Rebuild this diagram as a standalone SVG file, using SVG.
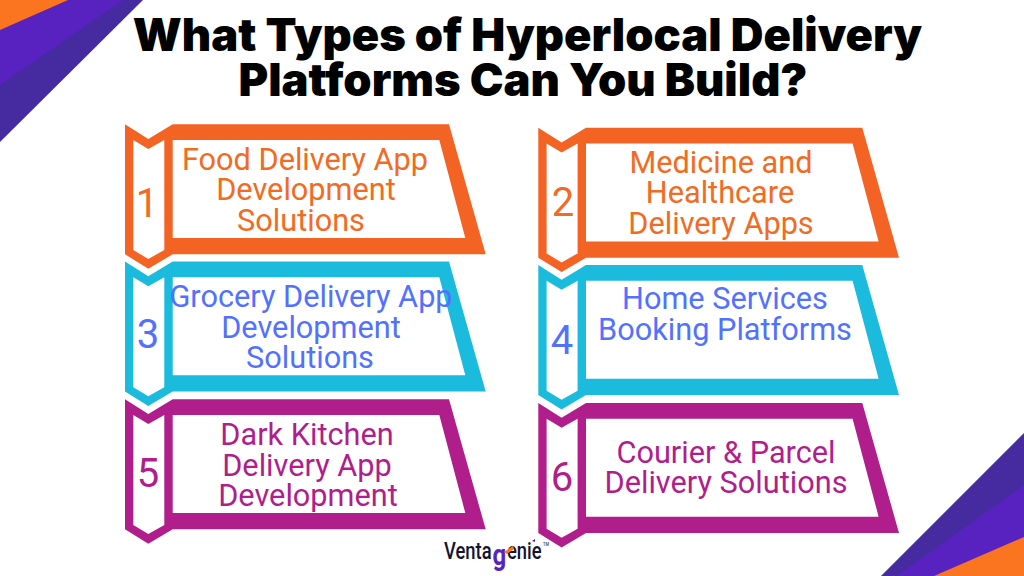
<svg xmlns="http://www.w3.org/2000/svg" width="1024" height="576" viewBox="0 0 1024 576">
<style>
.t{font-family:Roboto,"Liberation Sans",sans-serif;font-size:30.7px;text-anchor:middle;transform:translateY(.6px)}
.n{font-family:Roboto,"Liberation Sans",sans-serif;font-size:40px;text-anchor:middle}
.h{font-family:Inter,"Liberation Sans",sans-serif;font-size:45.3px;font-weight:900;text-anchor:middle;fill:#000}
.or{fill:#F26B22}.bl{fill:#5271FF}.ma{fill:#B01E8C}
.sor{fill:#F26324}.scy{fill:#1ABBDC}.sma{fill:#B01E8C}
</style>
<defs>
<path id="frame" fill-rule="evenodd" d="M0 0L23.3 14.7L47.7 0H324L360.7 130H47.7L23.3 144.4L0 130ZM8.3 15.7V125.7L23.3 134.7L39.3 125.7V15.7L23.3 24.7ZM47.7 15.7V113.7H340.3L314.3 15.7Z"/>
</defs>
<g id="corners">
<polygon points="0,0 143,0 0,142" fill="#452B9F"/>
<polygon points="0,0 123,0 0,85" fill="#5722C0"/>
<polygon points="0,0 68,0 0,30" fill="#FB7520"/>
<polygon points="1024,433 1024,576 881,576" fill="#452B9F"/>
<polygon points="1024,485 1024,576 897,576" fill="#5722C0"/>
<polygon points="1024,537 1024,576 934,576" fill="#FB7520"/>
</g>
<g id="title">
<text class="h"><tspan x="527.5" y="51">What Types of Hyperlocal Delivery</tspan><tspan x="523" y="96">Platforms Can You Build?</tspan></text>
</g>
<g id="node1"><use href="#frame" x="125" y="124.3" class="sor"/>
<text class="n or" x="147" y="217">1</text>
<text class="t or"><tspan x="305" y="169">Food Delivery App</tspan><tspan x="306" y="199">Development</tspan><tspan x="301" y="230">Solutions</tspan></text></g>
<g id="node2"><use href="#frame" x="538.3" y="127.7" class="sor"/>
<text class="n or" x="563" y="216">2</text>
<text class="t or"><tspan x="721" y="172">Medicine and</tspan><tspan x="720" y="202">Healthcare</tspan><tspan x="721" y="233">Delivery Apps</tspan></text></g>
<g id="node3"><use href="#frame" x="125" y="261.6" class="scy"/>
<text class="n bl" x="148" y="348">3</text>
<text class="t bl"><tspan x="311" y="306">Grocery Delivery App</tspan><tspan x="311" y="337">Development</tspan><tspan x="310" y="367">Solutions</tspan></text></g>
<g id="node4"><use href="#frame" x="538.3" y="265" class="scy"/>
<text class="n bl" x="562" y="354">4</text>
<text class="t bl"><tspan x="725" y="308">Home Services</tspan><tspan x="725" y="339">Booking Platforms</tspan></text></g>
<g id="node5"><use href="#frame" x="125" y="399.3" class="sma"/>
<text class="n ma" x="148" y="487">5</text>
<text class="t ma"><tspan x="307" y="444">Dark Kitchen</tspan><tspan x="307" y="475">Delivery App</tspan><tspan x="308" y="505">Development</tspan></text></g>
<g id="node6"><use href="#frame" x="538.3" y="403" class="sma"/>
<text class="n ma" x="562" y="491">6</text>
<text class="t ma"><tspan x="726" y="462">Courier &amp; Parcel</tspan><tspan x="726" y="492">Delivery Solutions</tspan></text></g>
<g id="logo">
<text transform="translate(444 559) scale(.8 1)" font-family="Roboto,'Liberation Sans',sans-serif" font-size="23" font-weight="500" fill="#14122E">Venta<tspan font-size="30" font-weight="700" fill="#5722C0" dy="6" dx="1">g</tspan><tspan dy="-6" dx="1">enie</tspan><tspan font-size="5" dy="-13" dx="2" fill="#444">TM</tspan></text>
<polygon points="504,552 513,546 514,549 507,554" fill="#FB7520"/>
<polygon points="532,541 535,539 535,542" fill="#5722C0"/>
</g>
</svg>
